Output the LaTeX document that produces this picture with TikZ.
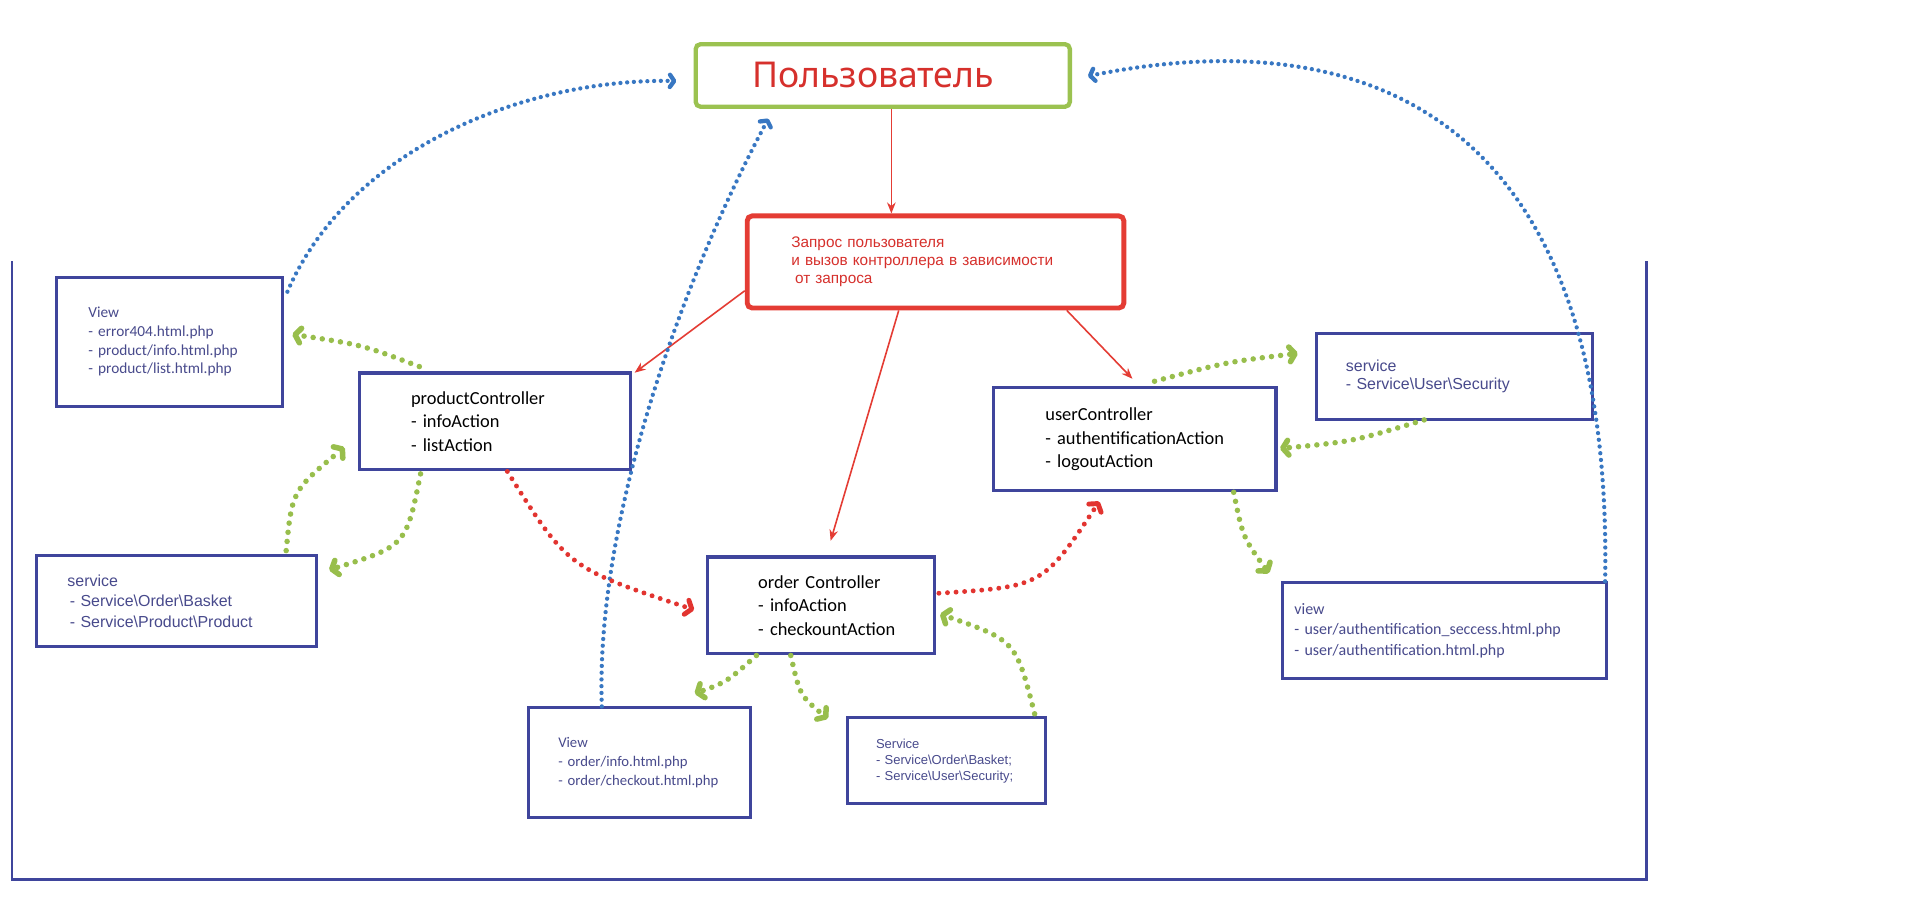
\documentclass[tikz,border=0pt]{standalone}
\usepackage{fontspec}
\setmainfont{Carlito}
\newfontfamily\arialfont{Liberation Sans}
\newfontfamily\userfont{Noto Sans}
\usepackage{tikz}
\usetikzlibrary{arrows.meta,calc,positioning}
\definecolor{boxblue}{RGB}{63,69,156}
\definecolor{boxgreen}{RGB}{155,194,80}
\definecolor{boxred}{RGB}{228,60,52}
\definecolor{textred}{RGB}{214,48,44}
\definecolor{textblue}{RGB}{72,74,140}
\definecolor{dotblue}{RGB}{56,119,194}
\definecolor{dotgreen}{RGB}{152,190,76}
\definecolor{dotred}{RGB}{226,52,48}
\tikzset{
  userbox/.style={draw=boxgreen, line width=3.5pt, rounded corners=4pt, rectangle, text=textred, font=\userfont\fontsize{29}{32}\selectfont},
  reqbox/.style={draw=boxred, line width=4pt, rounded corners=4pt, rectangle, align=left, inner xsep=0pt, text=textred, font=\arialfont\fontsize{12.5}{14.7}\selectfont},
  ctrlbox/.style={draw=boxblue, line width=2.5pt, rectangle, align=left, inner xsep=0pt, font=\fontsize{15}{19}\selectfont},
  viewbox/.style={draw=boxblue, line width=2.5pt, rectangle, align=left, inner xsep=0pt, text=textblue, font=\fontsize{12.5}{15.3}\selectfont},
  servbox/.style={draw=boxblue, line width=2.5pt, rectangle, align=left, inner xsep=0pt, text=textblue, font=\arialfont\fontsize{13}{16}\selectfont},
  frameline/.style={draw=boxblue, line width=2pt},
  callarrow/.style={draw=boxred, line width=1.3pt, -{Stealth[length=9pt,width=7pt]}},
  flowblue/.style={draw=dotblue, line width=3.5pt, line cap=round, dash pattern=on 0pt off 5.5pt, -{Straight Barb[round,length=3.5pt,width=10pt]}},
  flowgreen/.style={draw=dotgreen, line width=4.5pt, line cap=round, dash pattern=on 0pt off 7.5pt, -{Straight Barb[round,length=4.5pt,width=12pt]}},
  flowred/.style={draw=dotred, line width=4pt, line cap=round, dash pattern=on 0pt off 7pt, -{Straight Barb[round,length=4.5pt,width=12pt]}}
}

\begin{document}
\begin{tikzpicture}[x=1pt, y=-1pt]
        \useasboundingbox[fill=white] (0,0) rectangle (1560,736);
        % Outer frame round the application
        \draw[frameline] (10,213) -- (10,717) -- (1342,717) -- (1342,213);

        % User and request
        \node[userbox, minimum width=305pt, minimum height=51pt] (user) at (719.5,61.5) {Пользователь\hspace*{16pt}};
        \node[reqbox, minimum width=307pt, minimum height=75pt, text width=235pt] (request) at (762.5,213.5) {Запрос пользователя\\и вызов контроллера в зависимости\\\hspace*{3pt}от запроса};

        % Controllers
        \node[ctrlbox, minimum width=221pt, minimum height=79pt, text width=137pt] (productCtrl) at (403.5,343.5) {productController\\- infoAction\\- listAction};
        \node[ctrlbox, minimum width=185pt, minimum height=79pt, text width=103pt] (orderCtrl) at (669.5,493.5) {order Controller\\- infoAction\\\mbox{- checkountAction}};
        \node[ctrlbox, minimum width=230pt, minimum height=84pt, text width=146pt] (userCtrl) at (925,358) {userController\\\mbox{- authentificationAction}\\- logoutAction};

        % Views
        \node[viewbox, minimum width=184pt, minimum height=105pt, text width=132pt] (productView) at (138,278.5) {View\\- error404.html.php\\- product/info.html.php\\- product/list.html.php};
        \node[viewbox, minimum width=181pt, minimum height=89pt, text width=133pt, font=\fontsize{12}{15.5}\selectfont] (orderView) at (521.5,621.5) {View\\- order/info.html.php\\- order/checkout.html.php};
        \node[viewbox, minimum width=264pt, minimum height=78pt, text width=244pt, font=\fontsize{13}{16.5}\selectfont] (userView) at (1177,514) {view\\\mbox{- user/authentification\_seccess.html.php}\\- user/authentification.html.php};

        % Services
        \node[servbox, minimum width=228pt, minimum height=74pt, text width=178pt, font=\arialfont\fontsize{13}{16.8}\selectfont] (productServ) at (144,490) {service\\\hspace*{2pt}\mbox{- Service\textbackslash Order\textbackslash Basket}\\\hspace*{2pt}\mbox{- Service\textbackslash Product\textbackslash Product}};
        \node[servbox, minimum width=225pt, minimum height=70pt, text width=177pt, font=\arialfont\fontsize{13}{14.7}\selectfont] (userServ) at (1185.5,307) {service\\\mbox{- Service\textbackslash User\textbackslash Security}};
        \node[servbox, minimum width=161pt, minimum height=70pt, text width=115pt, font=\arialfont\fontsize{10.6}{13}\selectfont] (orderServ) at (771.5,620) {Service\\\mbox{- Service\textbackslash Order\textbackslash Basket;}\\\mbox{- Service\textbackslash User\textbackslash Security;}};

        % Request goes down to the controllers
        \draw[callarrow] ([xshift=7pt]user.south) -- ([xshift=7pt]user.south |- request.north);
        \draw[callarrow] ($(request.west)+(0,23.5)$) -- ($(productCtrl.north east)+(2,1)$);
        \draw[callarrow] ($(request.south)+(-30,0)$) -- ($(orderCtrl.north)+(7.5,-12)$);
        \draw[callarrow] ($(request.south)+(107,0)$) -- ($(userCtrl.north)+(-2,-6)$);

        % Views answer the user
        \draw[flowblue] ($(productView.north east)+(3,13)$) .. controls (285,120) and (430,64) .. ($(user.west)+(-14,4.5)$);
        \draw[flowblue] ($(orderView.north)+(-31,0)$) .. controls (485,420) and (560,220) .. ($(user.south west)+(61,8)$);
        \draw[flowblue] ($(userView.north east)+(-2,0)$) .. controls (1315,100) and (1120,15) .. ($(user.east)+(13,0.5)$);

        % Controllers call services and views
        \draw[flowgreen] ($(productCtrl.north west)+(50,-4)$) .. controls (295,281) .. ($(productView.east)+(7,-6)$);
        \draw[flowgreen] ($(productServ.north east)+(-26,-3)$) .. controls (238,400) .. ($(productCtrl.west)+(-11,21)$);
        \draw[flowgreen] ($(productCtrl.south west)+(51,2)$) .. controls (331,445) .. ($(productServ.east)+(9,-25.5)$);
        \draw[flowgreen] ($(userCtrl.north)+(16,-4)$) .. controls (1000,295) .. ($(userServ.west)+(-14,-19)$);
        \draw[flowgreen] ($(userServ.south west)+(89,-1)$) .. controls (1102,360) .. ($(userCtrl.east)+(2,7.5)$);
        \draw[flowgreen] ($(userCtrl.south)+(80.5,0)$) .. controls (1013,438) .. ($(userView.north west)+(-9.5,-6.5)$);
        \draw[flowgreen] ($(orderCtrl.south)+(-53,0)$) .. controls (592,556) .. ($(orderView.north east)+(-47,-10.5)$);
        \draw[flowgreen] ($(orderCtrl.south)+(-25,0)$) .. controls (652,567) .. ($(orderServ.north west)+(-15,2)$);
        \draw[flowgreen] ($(orderServ.north east)+(-10,-2)$) .. controls (828,522) .. ($(orderCtrl.east)+(3,7)$);

        % Controllers pass on to each other
        \draw[flowred] ($(productCtrl.south)+(10,0)$) .. controls (463,463) .. ($(orderCtrl.west)+(-10,3.5)$);
        \draw[flowred] ($(orderCtrl.east)+(2,-10)$) .. controls (850,478) .. ($(userCtrl.south)+(-29,7.5)$);
\end{tikzpicture}
\end{document}
